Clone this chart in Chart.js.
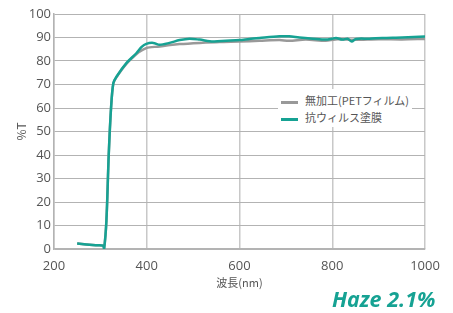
<!DOCTYPE html>
<html>
<head>
<meta charset="utf-8">
<script src="https://cdn.jsdelivr.net/npm/chart.js@4"></script>
<style>
  html, body { margin: 0; padding: 0; background: #fff; }
  #wrap { position: relative; width: 453px; height: 313px; }
  #legend {
    position: absolute; left: 278px; top: 89px; width: 134px; height: 38px;
    background: #fff; font-family: "Noto Sans CJK JP", sans-serif; font-size: 11px; color: #555;
  }
  .item { position: absolute; left: 3px; height: 16px; line-height: 16px; white-space: nowrap; }
  .item span.swatch { display: inline-block; width: 17px; height: 3px; vertical-align: middle; margin-right: 7px; }
  #haze {
    position: absolute; left: 332px; top: 285px;
    font-family: "Open Sans", sans-serif; font-weight: bold; font-style: italic;
    font-size: 21.5px; color: #16a293; line-height: 28px;
  }
</style>
</head>
<body>
<div id="wrap">
  <canvas id="specChart" width="453" height="313"></canvas>
  <div id="legend"></div>
  <div id="haze">Haze 2.1%</div>
</div>
<script>
// wavelength (nm) / transmittance (%T)
const petWave = [250, 290, 306, 308, 313, 318, 323, 328, 335, 356, 378, 389, 399, 406, 428, 450, 471, 514, 557, 600, 643, 686, 707, 743, 786, 807, 850, 900, 950, 1000];
const petT    = [2.3, 1.6, 1.4, 0,   12,  40,  60,  70.5, 73.2, 78.8, 83, 84.5, 85.5, 85.8, 86.2, 86.8, 87.2, 87.7, 88.1, 88.3, 88.6, 88.9, 88.6, 89.1, 88.6, 89.2, 89.0, 89.3, 89.2, 89.4];

const coatWave = [250, 290, 306, 308, 313, 318, 323, 328, 335, 356, 378, 389, 399, 414, 428, 449, 471, 492, 514, 543, 571, 600, 621, 643, 686, 707, 729, 758, 786, 800, 808, 822, 833, 842, 851, 880, 908, 951, 1000];
const coatT    = [2.3, 1.6, 1.4, 0,   12,  40,  60,  70.6, 73.4, 79.1, 83.4, 86, 87.3, 87.7, 86.9, 87.7, 88.9, 89.5, 89.1, 88.3, 88.6, 88.9, 89.4, 89.8, 90.5, 90.5, 90.0, 89.5, 89.1, 89.5, 89.8, 89.1, 89.5, 88.3, 89.4, 89.5, 89.8, 90.0, 90.4];

const seriesNames = ['無加工(PETフィルム)', '抗ウィルス塗膜'];
const seriesColors = ['#999999', '#16a293'];

const xTicks = [200, 400, 600, 800, 1000];
const yTicks = [0, 10, 20, 30, 40, 50, 60, 70, 80, 90, 100];

function toPoints(xs, ys) {
  return xs.map((x, i) => ({ x: x, y: ys[i] }));
}

const tickFont = { family: "'Open Sans', sans-serif", size: 13 };

const ctx = document.getElementById('specChart').getContext('2d');
const chart = new Chart(ctx, {
  type: 'line',
  data: {
    datasets: [{
      label: seriesNames[0],
      data: toPoints(petWave, petT),
      borderColor: seriesColors[0],
      borderWidth: 2.5,
      pointRadius: 0,
      tension: 0.3,
      order: 2
    }, {
      label: seriesNames[1],
      data: toPoints(coatWave, coatT),
      borderColor: seriesColors[1],
      borderWidth: 2.5,
      pointRadius: 0,
      tension: 0.3,
      order: 1
    }]
  },
  options: {
    responsive: false,
    animation: false,
    layout: { padding: { left: 0, right: 28, top: 14, bottom: 24 } },
    plugins: {
      legend: { display: false },
      tooltip: { enabled: false }
    },
    scales: {
      x: {
        type: 'linear',
        min: 200,
        max: 1000,
        afterFit: s => { s.height = 40; },
        afterBuildTicks: s => { s.ticks = xTicks.map(v => ({ value: v })); },
        grid: { color: '#c8c8c8', lineWidth: 1.5, drawTicks: false },
        border: { color: '#b3b3b3', width: 1.5 },
        ticks: { color: '#555', font: tickFont, padding: 9, maxRotation: 0, callback: v => String(v) },
        title: {
          display: true,
          text: '波長(nm)',
          color: '#555',
          font: { family: "'Noto Sans CJK JP', sans-serif", size: 11 },
          padding: { top: 0, bottom: 0 }
        }
      },
      y: {
        min: 0,
        max: 100,
        afterFit: s => { s.width = 54; },
        afterBuildTicks: s => { s.ticks = yTicks.map(v => ({ value: v })); },
        grid: { color: '#b3b3b3', lineWidth: 1, drawTicks: false },
        border: { color: '#b3b3b3', width: 1.5 },
        ticks: { color: '#555', font: tickFont, padding: 3, callback: v => String(v) },
        title: {
          display: true,
          text: '%T',
          color: '#555',
          font: { family: "'Noto Sans CJK JP', sans-serif", size: 12 },
          padding: { top: 14, bottom: 0 }
        }
      }
    }
  }
});

// legend box inside the plot, built from the datasets
const legendEl = document.getElementById('legend');
chart.data.datasets.forEach((ds, i) => {
  const row = document.createElement('div');
  row.className = 'item';
  row.style.top = (3 + i * 17) + 'px';
  row.innerHTML = '<span class="swatch" style="background:' + ds.borderColor + '"></span>' + ds.label;
  legendEl.appendChild(row);
});
</script>
</body>
</html>
